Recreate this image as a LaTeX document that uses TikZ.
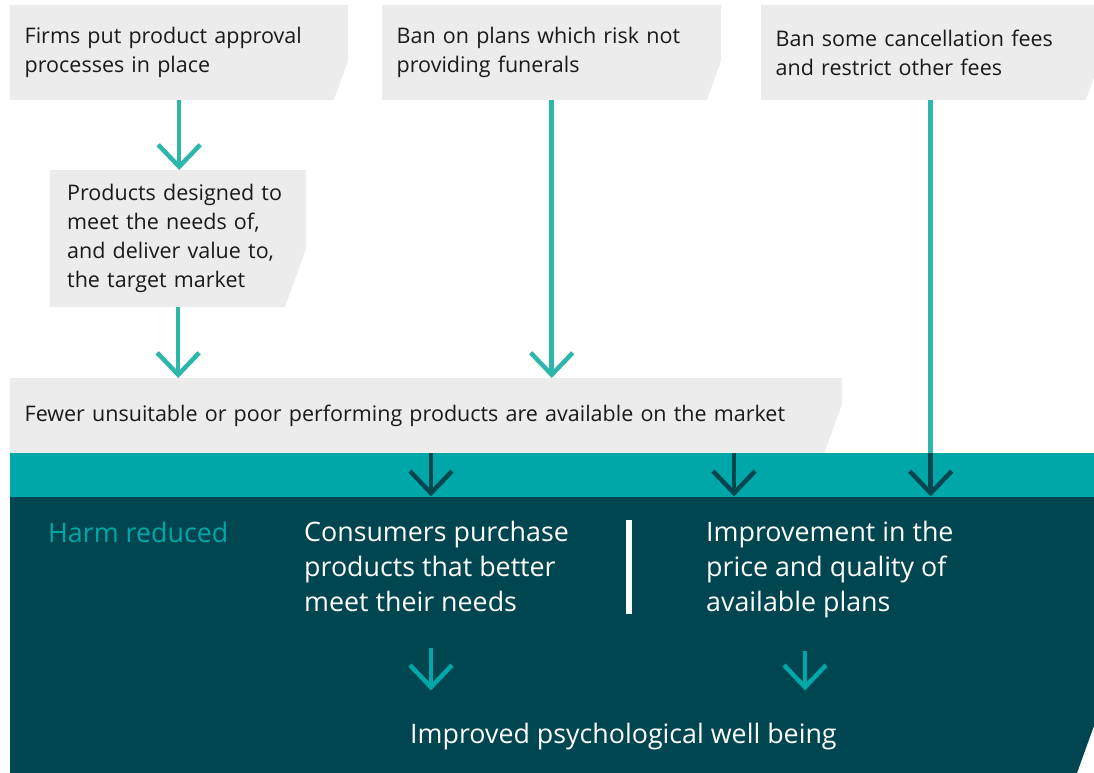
\documentclass[tikz,border=0pt]{standalone}
\usepackage{fontspec}
\setmainfont{Open Sans}
\usetikzlibrary{arrows.meta, positioning}

\definecolor{boxgrey}{RGB}{236,236,236}
\definecolor{flowteal}{RGB}{45,183,170}
\definecolor{bandteal}{RGB}{0,167,168}
\definecolor{harmdark}{RGB}{0,70,80}
\definecolor{inkblack}{RGB}{26,26,26}

\begin{document}
\begin{tikzpicture}[
        x=1pt, y=-1pt,
        >={Straight Barb[length=22pt, width=42pt]},
        every node/.style={font=\fontsize{21.5}{29}\selectfont},
        cutbox/.style 2 args={path picture={
            \fill[#2] (path picture bounding box.north west)
                -- (path picture bounding box.north east)
                -- ([yshift=#1]path picture bounding box.south east)
                -- ([xshift=-0.36*#1]path picture bounding box.south east)
                -- (path picture bounding box.south west) -- cycle;}},
        greybox/.style={anchor=north west, inner xsep=14.5pt, inner ysep=0pt, align=left, text=inkblack},
        flow/.style={->, line width=4.5pt, flowteal},
        darkflow/.style={->, line width=4.5pt, harmdark},
        bigtext/.style={anchor=west, inner sep=0pt, align=left, text=white, font=\fontsize{26.8}{35}\selectfont}
    ]
    \useasboundingbox (0,0) rectangle (1094,773);

    % Draw measure boxes
    \node[greybox, cutbox={40}{boxgrey}, text width=309pt, minimum height=95pt] (firms) at (10,5)
        {Firms put product approval\\processes in place};
    \node[greybox, cutbox={40}{boxgrey}, text width=310pt, minimum height=95pt] (plans) at (382,5)
        {Ban on plans which risk not\\providing funerals};
    \node[greybox, cutbox={40}{boxgrey}, text width=310pt, minimum height=95pt] (fees) at (761,5)
        {Ban some cancellation fees\\and restrict other fees};
    \node[greybox, cutbox={59}{boxgrey}, inner xsep=17pt, text width=222pt, minimum height=137pt] (designed) at (50,170)
        {Products designed to\\meet the needs of,\\and deliver value to,\\the target market};
    \node[greybox, cutbox={50}{boxgrey}, text width=803pt, minimum height=75pt] (fewer) at (10,378)
        {Fewer unsuitable or poor performing products are available on the market};

    % Band and harm panel
    \node[anchor=north west, fill=bandteal, inner sep=0pt, minimum width=1084pt, minimum height=44pt] (band) at (10,453) {};
    \node[anchor=north west, inner sep=0pt, minimum width=1084pt, minimum height=276pt, cutbox={48}{harmdark}] (harm) at (10,497) {};

    \node[bigtext, text=bandteal] (harmlabel) at (48,532) {Harm reduced};
    \node[bigtext] (consumers) at (304,566) {Consumers purchase\\products that better\\meet their needs};
    \node[bigtext] (improve) at (706,569.5) {Improvement in the\\price and quality of\\available plans};
    \node[bigtext] (wellbeing) at (410,737) {Improved psychological well being};

    % Separator
    \fill[white] (626,520) rectangle (632,614);

    % Draw flows
    \draw[flow] (firms.south) -- (firms.south |- designed.north);
    \draw[flow] (designed.south) -- (designed.south |- fewer.north);
    \draw[flow] (plans.south) -- (plans.south |- fewer.north);
    \draw[flow, -] (fees.south) -- (fees.south |- band.north);

    % Arrows across the band
    \coordinate (c1) at (431,0);
    \coordinate (c2) at (734,0);
    \coordinate (c3) at (fees.south);
    \coordinate (c4) at (805,0);
    \foreach \c in {c1,c2,c3} {
        \draw[darkflow, shorten >=1pt] (band.north -| \c) -- (band.south -| \c);
    }

    % Arrows to well being
    \draw[flow, bandteal, shorten <=36pt, shorten >=33pt] (consumers.south -| c1) -- (wellbeing.north -| c1);
    \draw[flow, bandteal, shorten <=33pt, shorten >=33pt] (improve.south -| c4) -- (wellbeing.north -| c4);

    \end{tikzpicture}
\end{document}
